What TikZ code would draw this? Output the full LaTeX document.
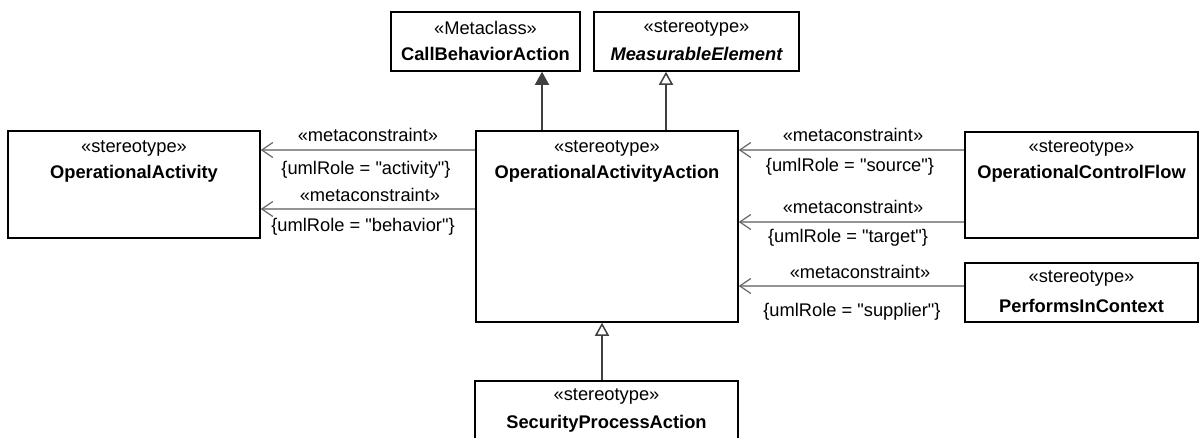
\documentclass[tikz,border=0pt]{standalone}
\usepackage{fontspec}
\setmainfont{Liberation Sans}
\usetikzlibrary{arrows.meta}
\newcommand\qd{\textquotedbl}
\begin{document}
\begin{tikzpicture}[x=1pt,y=-1pt,
 box/.style={draw=black,line width=1.5pt,fill=white,inner sep=0pt},
 txt/.style={font=\fontsize{18.3}{22}\selectfont,inner sep=0pt,anchor=center},
 nm/.style={font=\fontsize{18.3}{22}\selectfont\bfseries,inner sep=0pt,anchor=center},
 dep/.style={draw=black!42, line width=1.2pt, -{Straight Barb[length=11pt,width=15pt,line width=1.2pt,color=black!60]}},
 gen/.style={draw=black!75,line width=1.5pt,-{Triangle[open,length=13pt,width=14pt,fill=white]}},
 genf/.style={draw=black!75,line width=1.5pt,-{Triangle[length=13pt,width=14pt]}},
]
\useasboundingbox (0,0) rectangle (1200,437);

% boxes
\node[box,minimum width=189pt,minimum height=59pt] (cba) at (485.5,41.5) {};
\node[box,minimum width=205pt,minimum height=59pt] (me) at (696.5,41.5) {};
\node[box,minimum width=262pt,minimum height=191pt] (main) at (607,226.5) {};
\node[box,minimum width=252pt,minimum height=107pt] (oa) at (134,184.5) {};
\node[box,minimum width=233pt,minimum height=106pt] (ocf) at (1081.5,185) {};
\node[box,minimum width=233pt,minimum height=59pt] (pic) at (1081.5,292.5) {};
\node[box,minimum width=263pt,minimum height=69pt] (spa) at (606.5,415.5) {};

% box texts
\node[txt] (cbas) at ([yshift=-17pt]cba.north) {«Metaclass»};
\node[nm] (cban) at ([yshift=-43pt]cba.north) {CallBehaviorAction};
\node[txt] (mes) at ([yshift=-17pt]me.north) {«stereotype»};
\node[nm] (men) at ([yshift=-43pt]me.north) {\itshape MeasurableElement};
\node[txt] (mains) at ([yshift=-18pt]main.north) {«stereotype»};
\node[nm] (mainn) at ([yshift=-44pt]main.north) {OperationalActivityAction};
\node[txt] (oas) at ([yshift=-18pt]oa.north) {«stereotype»};
\node[nm] (oan) at ([yshift=-44pt]oa.north) {OperationalActivity};
\node[txt] (ocfs) at ([yshift=-17pt]ocf.north) {«stereotype»};
\node[nm] (ocfn) at ([yshift=-43pt]ocf.north) {OperationalControlFlow};
\node[txt] (pics) at ([yshift=-16pt]pic.north) {«stereotype»};
\node[nm] (picn) at ([yshift=-44pt]pic.north) {PerformsInContext};
\node[txt] (spas) at ([yshift=-16pt]spa.north) {«stereotype»};
\node[nm] (span) at ([yshift=-44pt]spa.north) {SecurityProcessAction};

% generalizations
\draw[genf] ([xshift=-65pt]main.north) -- ([xshift=-65pt]main.north |- cba.south);
\draw[gen] ([xshift=59pt]main.north) -- ([xshift=59pt]main.north |- me.south);
\draw[gen] ([xshift=-4.5pt]spa.north) -- ([xshift=-4.5pt]spa.north |- main.south);

% metaconstraints left
\draw[dep] ([yshift=76.5pt]main.west) -- ([yshift=76.5pt]main.west -| oa.east);
\draw[dep] ([yshift=17.5pt]main.west) -- ([yshift=17.5pt]main.west -| oa.east);
% metaconstraints right
\draw[dep] ([yshift=35pt]ocf.west) -- ([yshift=35pt]ocf.west -| main.east);
\draw[dep] ([yshift=-37pt]ocf.west) -- ([yshift=-37pt]ocf.west -| main.east);
\draw[dep] ([yshift=6.5pt]pic.west) -- ([yshift=6.5pt]pic.west -| main.east);

% labels
\node[txt] (l1a) at (368,135) {«metaconstraint»};
\node[txt] (l1b) at (366,170) {\{umlRole = \qd activity\qd\}};
\node[txt] (l2a) at (370,195) {«metaconstraint»};
\node[txt] (l2b) at (363,227) {\{umlRole = \qd behavior\qd\}};
\node[txt] (r1a) at (853,135) {«metaconstraint»};
\node[txt] (r1b) at (850,167) {\{umlRole = \qd source\qd\}};
\node[txt] (r2a) at (853,207) {«metaconstraint»};
\node[txt] (r2b) at (848,238) {\{umlRole = \qd target\qd\}};
\node[txt] (r3a) at (860,272) {«metaconstraint»};
\node[txt] (r3b) at (852,312) {\{umlRole = \qd supplier\qd\}};
\end{tikzpicture}
\end{document}
